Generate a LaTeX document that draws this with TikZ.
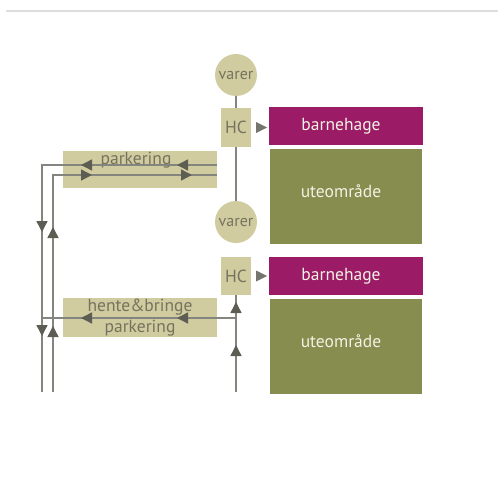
\documentclass[tikz,border=0pt]{standalone}
\usepackage{fontspec}
\setmainfont{PT Sans}
\usetikzlibrary{arrows.meta,decorations.markings,positioning}
\definecolor{khaki}{HTML}{D0CC9F}
\definecolor{khakitext}{HTML}{76725F}
\definecolor{plum}{HTML}{9C1B66}
\definecolor{moss}{HTML}{868D4F}
\definecolor{pale}{HTML}{F3F1E3}
\definecolor{roadgray}{HTML}{85857F}
\definecolor{tipgray}{HTML}{5D5D54}
\definecolor{rulegray}{HTML}{DDDDDD}
\tikzset{
  txt/.style={font=\fontsize{17.5}{21}\selectfont},
  stop/.style={circle, fill=khaki, text=khakitext, minimum size=42pt, inner sep=0pt, font=\fontsize{16}{20}\selectfont},
  hcbox/.style={rectangle, fill=khaki, text=khakitext, minimum width=30pt, minimum height=39pt, inner sep=0pt, txt},
  kinder/.style={rectangle, fill=plum, text=pale, minimum width=154pt, minimum height=38pt, inner sep=0pt, txt},
  yard/.style={rectangle, fill=moss, text=pale, minimum width=152pt, minimum height=95pt, inner sep=0pt, text depth=11pt, txt},
  parkbox/.style={rectangle, fill=khaki, text=khakitext, minimum width=154pt, minimum height=38pt, inner sep=0pt, align=center, txt},
  road/.style={draw=roadgray, line width=1.4pt},
  tipat/.style={postaction={decorate, decoration={markings,
    mark=at position #1 with {\arrow{Triangle[length=11pt,width=11pt,color=tipgray]}}}}}
}
\begin{document}
\begin{tikzpicture}[x=1pt,y=-1pt]
\useasboundingbox (0,0) rectangle (499,498);
\draw[rulegray, line width=1.2pt] (6,11) -- (498,11);

% upper block
\node[stop] (varerA) at (236,75) {varer};
\node[hcbox] (hcA) at (236,127.5) {HC};
\node[kinder] (barnA) at (346,126) {\hspace*{-10pt}barnehage};
\node[yard, below=4pt of barnA] (uteA) {\hspace*{-10pt}uteområde};

% lower block
\node[stop] (varerB) at (236,222) {varer};
\node[hcbox, minimum height=38pt] (hcB) at (236,276) {HC};
\node[kinder] (barnB) at (346,276) {\hspace*{-10pt}barnehage};
\node[yard, below=4pt of barnB] (uteB) {\hspace*{-10pt}uteområde};

% parking
\node[parkbox, minimum height=37pt] (parkA) at (140,169.5) {};
\node[text=khakitext, txt, inner sep=0pt] (parkAtxt) at (136,160) {parkering};
\node[parkbox, minimum height=39pt] (parkB) at (140,317.5) {hente\&bringe\\parkering};

\fill[tipgray!85!white] ([xshift=5pt,yshift=-5.5pt]hcA.east) -- ([xshift=5pt,yshift=5.5pt]hcA.east)
  -- ([xshift=16pt]hcA.east) -- cycle;
\fill[tipgray!85!white] ([xshift=5pt,yshift=-5.5pt]hcB.east) -- ([xshift=5pt,yshift=5.5pt]hcB.east)
  -- ([xshift=16pt]hcB.east) -- cycle;

\coordinate (inA) at (217,165);
\coordinate (outA) at (217,175);
\coordinate (leftEnd) at (42,392);
\coordinate (rightEnd) at (53,392);
\coordinate (midEnd) at (236,392);
\coordinate (joinB) at (236,318);

% roads
\draw[road] (varerA) -- (hcA);
\draw[road] (hcA) -- (varerB);
\draw[road, tipat=47pt, tipat=90pt] (midEnd) -- (hcB);
\draw[road, tipat=40pt, tipat=136pt, tipat=242pt, tipat=346pt]
  (inA) -- (inA -| leftEnd) -- (leftEnd);
\draw[road, tipat=66pt, tipat=165pt, tipat=256pt, tipat=356pt]
  (rightEnd) -- (rightEnd |- outA) -- (outA);
\draw[road, tipat=59pt, tipat=155pt] (joinB) -- (joinB -| leftEnd);
\end{tikzpicture}
\end{document}
